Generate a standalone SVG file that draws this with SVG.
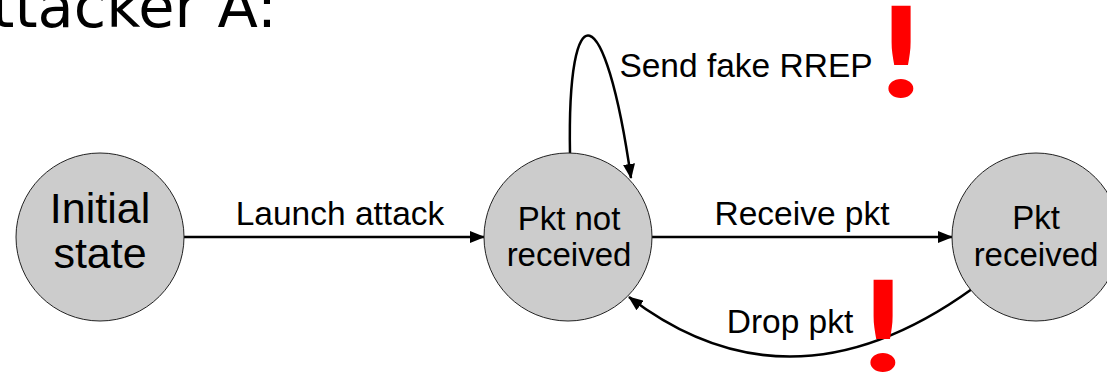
<svg xmlns="http://www.w3.org/2000/svg" width="1107" height="375" viewBox="0 0 1107 375">
<style>
.node{fill:#cccccc;stroke:#222;stroke-width:1}
.lbl{font-family:"Liberation Sans",Arial,sans-serif;fill:#000;text-anchor:middle}
.nl{font-size:33px}
.el{font-size:33.5px}
.edge{fill:none;stroke:#000;stroke-width:2.5}
.bang{font-family:Lato,"DejaVu Sans",sans-serif;font-weight:bold;font-size:126px;fill:#ff0000;text-anchor:middle}
</style>
<defs>
<marker id="ah" markerWidth="16" markerHeight="12" refX="14" refY="6" orient="auto" markerUnits="userSpaceOnUse">
<path d="M0,0 L15,6 L0,12 Z" fill="#000"/>
</marker>
</defs>
<text x="-48" y="27" font-family="DejaVu Sans,sans-serif" font-size="59" fill="#000">Attacker A:</text>
<g id="edges">
<line class="edge" x1="184" y1="237" x2="484" y2="237" marker-end="url(#ah)"/>
<line class="edge" x1="652" y1="237" x2="952" y2="237" marker-end="url(#ah)"/>
<path class="edge" d="M570,153 C567,-10 605,-5 631,178" marker-end="url(#ah)"/>
<path class="edge" d="M972,289 Q790,420 629,297" marker-end="url(#ah)"/>
<text class="lbl el" x="340" y="225">Launch attack</text>
<text class="lbl el" x="802" y="225">Receive pkt</text>
<text class="lbl el" x="746" y="77">Send fake RREP</text>
<text class="lbl el" x="790" y="333">Drop pkt</text>
</g>
<g id="initial">
<circle class="node" cx="100" cy="237" r="84"/>
<text class="lbl" font-size="43" x="100" y="223">Initial</text>
<text class="lbl" font-size="43" x="100" y="268">state</text>
</g>
<g id="notreceived">
<circle class="node" cx="568" cy="237" r="84"/>
<text class="lbl nl" x="569" y="230">Pkt not</text>
<text class="lbl nl" x="569" y="266">received</text>
</g>
<g id="received">
<circle class="node" cx="1036" cy="237" r="84"/>
<text class="lbl nl" x="1036" y="229">Pkt</text>
<text class="lbl nl" x="1036" y="266">received</text>
</g>
<text class="bang" transform="translate(901,97) scale(1.3,1)" x="0" y="0">!</text>
<text class="bang" transform="translate(883,371) scale(1.3,1)" x="0" y="0">!</text>
</svg>
